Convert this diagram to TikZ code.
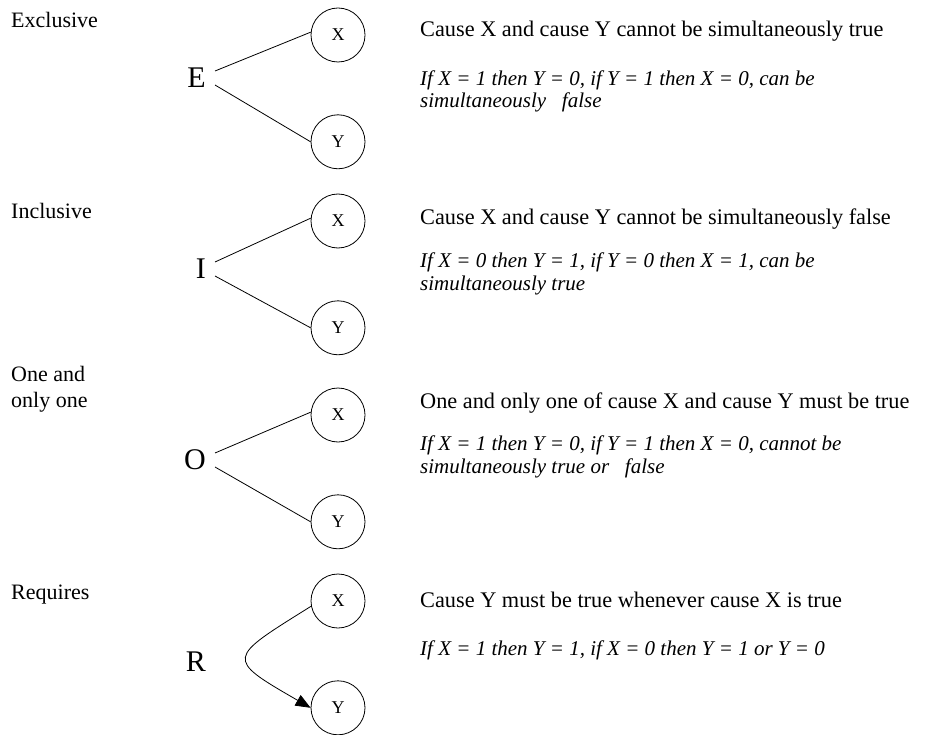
\documentclass[tikz,border=0pt]{standalone}
\usepackage{fontspec}
\setmainfont{Liberation Serif}
\usetikzlibrary{arrows.meta,positioning}

\begin{document}
\begin{tikzpicture}[
    x=1pt,y=-1pt,
    node distance=52pt,
    cause/.style={draw,circle,line width=0.8pt,minimum size=54pt,inner sep=0pt,
      font=\fontsize{18}{20}\selectfont},
    relation/.style={anchor=east,inner sep=0pt,font=\fontsize{30}{36}\selectfont},
    kind/.style={anchor=base west,inner sep=0pt,align=left,font=\fontsize{22}{26}\selectfont},
    rule/.style={anchor=base west,inner sep=0pt,font=\fontsize{22.3}{26}\selectfont},
    note/.style={anchor=base west,inner sep=0pt,align=left,
      font=\fontsize{21}{22.5}\selectfont\itshape},
    link/.style={line width=0.8pt},
    arrow/.style={-{Triangle[length=15pt,width=12pt]},line width=0.8pt}
  ]
  \useasboundingbox (0,0) rectangle (936,735);

  % exclusive
  \node[kind] (exclusive) at (11,28) {Exclusive};
  \node[relation] (E) at (206,78) {E};
  \node[cause] (EX) at (338,35) {X};
  \node[cause,below=of EX] (EY) {Y};
  \node[rule] (Erule) at (420,37) {Cause X and cause Y cannot be simultaneously true};
  \node[note] (Enote) at (420,108) {If X = 1 then Y = 0, if Y = 1 then X = 0, can be\\
    simultaneously\ \ \ false};
  \draw[link] ([shift={(9,-7)}]E.east) -- (EX.174);
  \draw[link] ([shift={(9,7)}]E.east) -- (EY.west);

  % inclusive
  \node[kind] (inclusive) at (11,219) {Inclusive};
  \node[relation] (I) at (206,269) {I};
  \node[cause] (IX) at (338,221) {X};
  \node[cause,below=of IX] (IY) {Y};
  \node[rule] (Irule) at (420,225) {Cause X and cause Y cannot be simultaneously false};
  \node[note] (Inote) at (420,290) {If X = 0 then Y = 1, if Y = 0 then X = 1, can be\\
    simultaneously true};
  \draw[link] ([shift={(9,-7)}]I.east) -- (IX.174);
  \draw[link] ([shift={(9,7)}]I.east) -- (IY.west);

  % one and only one
  \node[kind] (oneonly) at (11,407) {One and\\only one};
  \node[relation] (O) at (206,460) {O};
  \node[cause] (OX) at (338,415) {X};
  \node[cause,below=of OX] (OY) {Y};
  \node[rule] (Orule) at (420,408) {One and only one of cause X and cause Y must be true};
  \node[note] (Onote) at (420,473) {If X = 1 then Y = 0, if Y = 1 then X = 0, cannot be\\
    simultaneously true or\ \ \ false};
  \draw[link] ([shift={(9,-7)}]O.east) -- (OX.174);
  \draw[link] ([shift={(9,7)}]O.east) -- (OY.west);

  % requires
  \node[kind] (requires) at (11,599) {Requires};
  \node[relation] (R) at (206,662) {R};
  \node[cause] (RX) at (338,601) {X};
  \node[cause,below=of RX] (RY) {Y};
  \node[rule] (Rrule) at (420,607) {Cause Y must be true whenever cause X is true};
  \node[note] (Rnote) at (420,655) {If X = 1 then Y = 1, if X = 0 then Y = 1 or Y = 0};
  \draw[arrow] (RX.191) to[out=212,in=150,looseness=2.5] (RY.west);
\end{tikzpicture}
\end{document}
